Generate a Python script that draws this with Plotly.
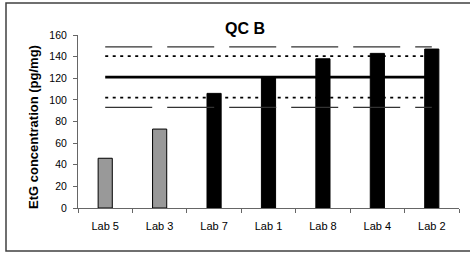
import plotly.graph_objects as go

labs = ["Lab 5", "Lab 3", "Lab 7", "Lab 1", "Lab 8", "Lab 4", "Lab 2"]
etg_values = [46, 73, 106, 121, 138, 143, 147]
target_value = 121
inner_limits = [102, 140.5]
outer_limits = [93, 149]
y_ticks = [0, 20, 40, 60, 80, 100, 120, 140, 160]

FONT = "Arial, Liberation Sans, sans-serif"
W, H = 470, 253
L, R, T, B = 78, 11, 35, 45
pw, ph = W - L - R, H - T - B

bar_colors = ["#999999" if v < outer_limits[0] else "#000000" for v in etg_values]

fig = go.Figure()
fig.add_trace(go.Bar(
    x=labs, y=etg_values,
    marker=dict(color=bar_colors, line=dict(color="#000000", width=1)),
    hoverinfo="skip", showlegend=False,
))

for lim in outer_limits:
    fig.add_trace(go.Scatter(
        x=labs, y=[lim] * len(labs), mode="lines",
        line=dict(color="#333333", width=1.3, dash="47px,15px"),
        hoverinfo="skip", showlegend=False,
    ))
for lim in inner_limits:
    fig.add_trace(go.Scatter(
        x=labs, y=[lim] * len(labs), mode="lines",
        line=dict(color="#000000", width=1.8, dash="3px,4.5px"),
        hoverinfo="skip", showlegend=False,
    ))
fig.add_trace(go.Scatter(
    x=labs, y=[target_value] * len(labs), mode="lines",
    line=dict(color="#000000", width=2.8),
    hoverinfo="skip", showlegend=False,
))

def px_x(p):
    return (p - L) / pw

def px_y(p):
    return (H - B - p) / ph

fig.add_shape(type="rect", xref="paper", yref="paper",
              x0=px_x(6), x1=px_x(480), y0=px_y(251), y1=px_y(3),
              line=dict(color="#404040", width=1.5), fillcolor="rgba(0,0,0,0)")

fig.add_annotation(text="<b>QC B</b>", xref="paper", yref="paper",
                   x=px_x(244.5), y=px_y(28.5), showarrow=False,
                   xanchor="center", yanchor="middle",
                   font=dict(family=FONT, size=16, color="#000000"))
fig.add_annotation(text="<b>EtG concentration (pg/mg)</b>", xref="paper", yref="paper",
                   x=px_x(34), y=px_y(127), showarrow=False, textangle=-90,
                   xanchor="center", yanchor="middle",
                   font=dict(family=FONT, size=13, color="#000000"))

fig.update_layout(
    width=W, height=H,
    margin=dict(l=L, r=R, t=T, b=B, pad=0),
    paper_bgcolor="white", plot_bgcolor="white",
    bargap=0.74,
    font=dict(family=FONT, size=10, color="#000000"),
    xaxis=dict(type="category", range=[-0.5, len(labs) - 0.5],
               showline=True, linecolor="#666666", linewidth=1,
               ticks="outside", ticklen=4, tickcolor="#666666", tickson="boundaries",
               ticklabelstandoff=8,
               showgrid=False, zeroline=False,
               tickfont=dict(family=FONT, size=11)),
    yaxis=dict(range=[0, 160], tickvals=y_ticks,
               showline=True, linecolor="#666666", linewidth=1,
               ticks="outside", ticklen=4, tickcolor="#666666",
               ticklabelstandoff=4,
               showgrid=False, zeroline=False,
               tickfont=dict(family=FONT, size=10.5)),
)

fig.write_html("out.html", config={"displayModeBar": False},
               post_script="document.body.style.margin='0';document.body.style.overflow='hidden';")
